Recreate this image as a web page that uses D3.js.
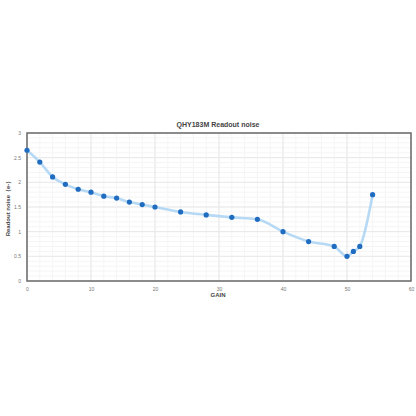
<!DOCTYPE html>
<html>
<head>
<meta charset="utf-8">
<script src="https://cdn.jsdelivr.net/npm/d3@7"></script>
<style>
  body { margin: 0; background: #fff; }
  svg { display: block; font-family: "Liberation Sans", Arial, sans-serif; }
</style>
</head>
<body>
<div id="chart"></div>
<script>
// readout noise vs gain
const gain = [0, 2, 4, 6, 8, 10, 12, 14, 16, 18, 20, 24, 28, 32, 36, 40, 44, 48, 50, 51, 52, 54];
const noise = [2.65, 2.41, 2.11, 1.96, 1.86, 1.80, 1.72, 1.68, 1.60, 1.55, 1.50, 1.40, 1.34, 1.29, 1.25, 1.00, 0.80, 0.70, 0.50, 0.60, 0.70, 1.75];
const xTicks = [0, 10, 20, 30, 40, 50, 60];
const yTicks = [0, 0.5, 1, 1.5, 2, 2.5, 3];

const width = 416, height = 416;
const margin = { top: 133, right: 5, bottom: 135, left: 27 };

const svg = d3.select('#chart').append('svg')
    .attr('width', width)
    .attr('height', height);

const x = d3.scaleLinear().domain([0, 60]).range([margin.left, width - margin.right]);
const y = d3.scaleLinear().domain([0, 3]).range([height - margin.bottom, margin.top]);

// minor grid
const grid = svg.append('g');
grid.selectAll('.mx')
    .data(d3.range(0, 61, 2))
    .enter().append('line')
    .attr('x1', d => x(d)).attr('x2', d => x(d))
    .attr('y1', y(0)).attr('y2', y(3))
    .attr('stroke', '#f5f5f5').attr('stroke-width', 1);
grid.selectAll('.my')
    .data(d3.range(0, 31).map(d => d / 10))
    .enter().append('line')
    .attr('y1', d => y(d)).attr('y2', d => y(d))
    .attr('x1', x(0)).attr('x2', x(60))
    .attr('stroke', '#f5f5f5').attr('stroke-width', 1);

// major grid
grid.selectAll('.gx')
    .data(xTicks)
    .enter().append('line')
    .attr('x1', d => x(d)).attr('x2', d => x(d))
    .attr('y1', y(0)).attr('y2', y(3))
    .attr('stroke', '#e8e8e8').attr('stroke-width', 1);
grid.selectAll('.gy')
    .data(yTicks)
    .enter().append('line')
    .attr('y1', d => y(d)).attr('y2', d => y(d))
    .attr('x1', x(0)).attr('x2', x(60))
    .attr('stroke', '#e8e8e8').attr('stroke-width', 1);

// frame
svg.append('rect')
    .attr('x', x(0)).attr('y', y(3))
    .attr('width', x(60) - x(0)).attr('height', y(0) - y(3))
    .attr('fill', 'none')
    .attr('stroke', '#6a6a6a').attr('stroke-width', 1.5);

// axes labels
svg.append('g')
    .attr('transform', 'translate(0,' + (y(0) + 3) + ')')
    .call(d3.axisBottom(x).tickValues(xTicks).tickSize(0).tickFormat(d3.format('d')))
    .call(g => g.select('.domain').remove())
    .selectAll('text')
    .attr('font-size', 5).attr('fill', '#777');

svg.append('g')
    .attr('transform', 'translate(' + (x(0) - 3) + ',0)')
    .call(d3.axisLeft(y).tickValues(yTicks).tickSize(0).tickFormat(d => d))
    .call(g => g.select('.domain').remove())
    .selectAll('text')
    .attr('font-size', 5).attr('fill', '#777');

// line
const line = d3.line()
    .x((d, i) => x(gain[i]))
    .y(d => y(d))
    .curve(d3.curveMonotoneX);

svg.append('path')
    .datum(noise)
    .attr('d', line)
    .attr('fill', 'none')
    .attr('stroke', '#a9d2f3')
    .attr('stroke-width', 2.6)
    .attr('stroke-opacity', 0.85);

svg.selectAll('circle')
    .data(noise)
    .enter().append('circle')
    .attr('cx', (d, i) => x(gain[i]))
    .attr('cy', d => y(d))
    .attr('r', 2.6)
    .attr('fill', '#1f6cc0');

// titles
svg.append('text')
    .attr('x', 218).attr('y', 127)
    .attr('text-anchor', 'middle')
    .attr('font-size', 7).attr('font-weight', 'bold')
    .attr('fill', '#444')
    .text('QHY183M Readout noise');

svg.append('text')
    .attr('x', 218).attr('y', 297)
    .attr('text-anchor', 'middle')
    .attr('font-size', 6).attr('font-weight', 'bold')
    .attr('fill', '#444')
    .text('GAIN');

svg.append('text')
    .attr('transform', 'translate(10,' + ((y(0) + y(3)) / 2) + ') rotate(-90)')
    .attr('text-anchor', 'middle')
    .attr('font-size', 6).attr('font-weight', 'bold')
    .attr('fill', '#444')
    .text('Readout noise（e-）');
</script>
</body>
</html>
